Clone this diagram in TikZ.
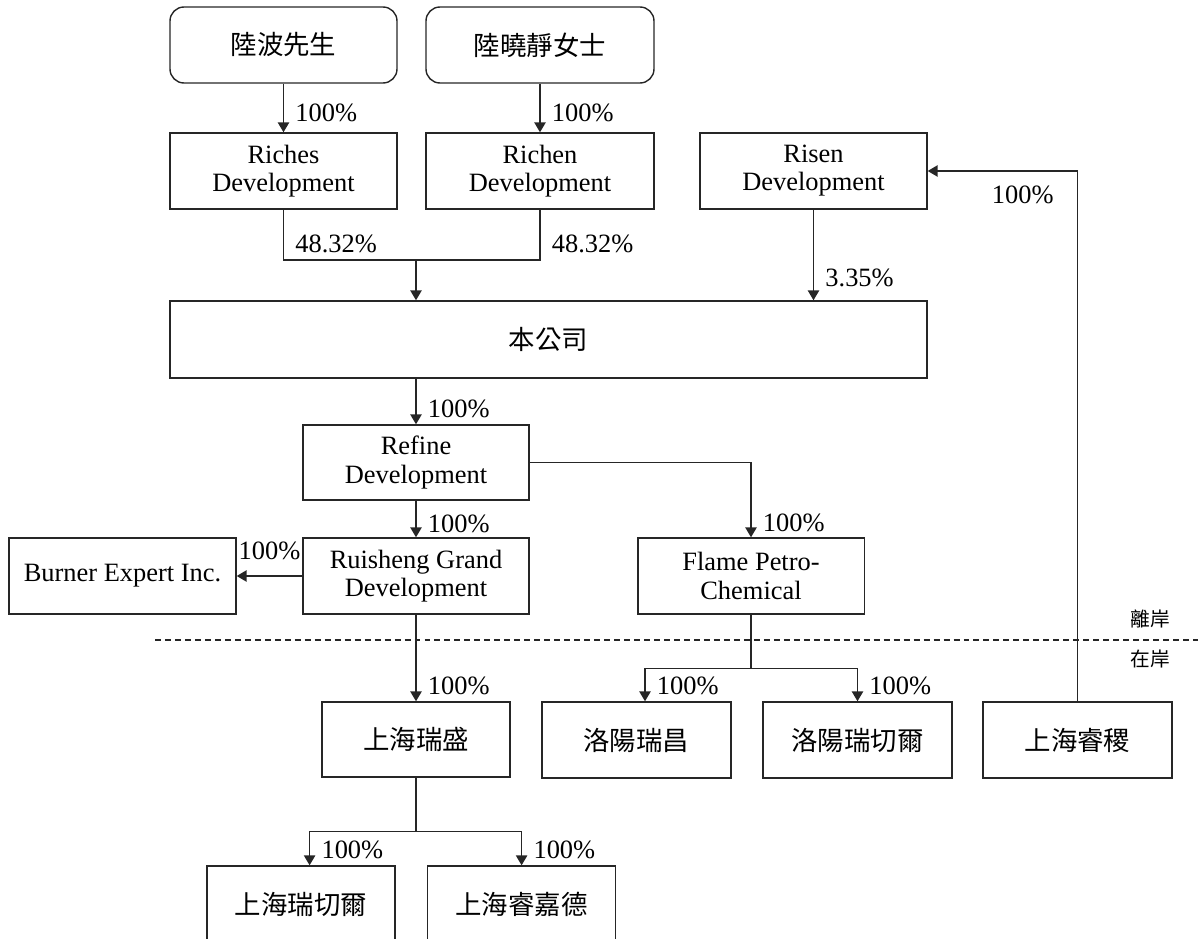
\documentclass[tikz,border=0pt]{standalone}
\usepackage{fontspec}
\setmainfont{Liberation Serif}
\newfontfamily\cjk{Noto Sans CJK TC}
\usetikzlibrary{arrows.meta}

\begin{document}
\begin{tikzpicture}[
    font=\fontsize{18.8pt}{20pt}\selectfont,
    box/.style={draw=black!85, line width=1pt, minimum width=5.675cm, minimum height=1.9cm, align=center, inner sep=2pt},
    sbox/.style={box, minimum width=4.725cm},
    owner/.style={box, rounded corners=0.35cm},
    link/.style={draw=black!85, line width=1pt},
    arr/.style={link, -{Triangle[length=7pt,width=8pt]}},
    pct/.style={inner sep=0pt, anchor=west, xshift=8pt},
    shore/.style={draw=black!85, line width=1pt, dash pattern=on 4.25pt off 2.85pt},
    side/.style={font=\fontsize{14pt}{16pt}\selectfont\cjk}
]
    \path[use as bounding box] (0,0) rectangle (29.95,-23.475);

    \node[owner] (mrlu) at (7.0875,-1.125) {\cjk 陸波先生};
    \node[owner, minimum width=5.7cm] (mslu) at (13.5,-1.125) {\cjk 陸曉靜女士};
    \node[box] (riches) at (7.0875,-4.275) {Riches\\Development};
    \node[box, minimum width=5.7cm] (richen) at (13.5,-4.275) {Richen\\Development};
    \node[box] (risen) at (20.3375,-4.275) {Risen\\Development};
    \node[box, minimum width=18.925cm, minimum height=1.925cm] (company) at (13.7125,-8.4875) {\cjk 本公司};
    \node[box, minimum width=5.65cm, minimum height=1.875cm] (refine) at (10.4,-11.5625) {Refine\\Development};
    \node[box, minimum width=5.65cm] (ruisheng) at (10.4,-14.4) {Ruisheng Grand\\Development};
    \node[box] (burner) at (3.0625,-14.4) {Burner Expert Inc.};
    \node[box, minimum width=5.66cm] (flame) at (18.775,-14.4) {Flame Petro-\\Chemical};
    \node[sbox, minimum width=4.7cm, minimum height=1.875cm] (shrs) at (10.4,-18.4875) {\cjk 上海瑞盛};
    \node[sbox] (lyrc) at (15.91,-18.5) {\cjk 洛陽瑞昌};
    \node[sbox] (lyrqe) at (21.4375,-18.5) {\cjk 洛陽瑞切爾};
    \node[sbox] (shrj) at (26.9375,-18.5) {\cjk 上海睿稷};
    \node[sbox, minimum width=4.7cm] (shrqe) at (7.52,-22.6) {\cjk 上海瑞切爾};
    \node[sbox, minimum width=4.7cm] (shrjd) at (13.04,-22.6) {\cjk 上海睿嘉德};

    \draw[shore] (3.875,-16) -- (29.95,-16);
    \node[side] (offshore) at (28.75,-15.475) {離岸};
    \node[side] (onshore) at (28.75,-16.475) {在岸};

    \coordinate (mj) at (10.4,-6.5);
    \draw[arr] (mrlu) -- node[pct, pos=0.6] {100\%} (riches);
    \draw[arr] (mslu) -- node[pct, pos=0.6] {100\%} (richen);
    \draw[link] (riches.south) |- node[pct, pos=0.34] {48.32\%} (richen.south |- mj) -- node[pct, pos=0.32] {48.32\%} (richen.south);
    \draw[arr] (mj) -- (mj |- company.north);
    \draw[arr] (risen.south) -- node[pct, pos=0.755] {3.35\%} (risen.south |- company.north);
    \draw[arr] (shrj.north) |- node[pos=0.5, anchor=north east, inner sep=0pt, xshift=-16.5pt, yshift=-10pt] {100\%} (risen.east);

    \draw[arr] (mj |- company.south) -- node[pct, pos=0.67] {100\%} (refine);
    \draw[arr] (refine) -- node[pct, pos=0.64] {100\%} (ruisheng);
    \draw[arr] (refine.east) -| node[pct, pos=0.907] {100\%} (flame.north);
    \draw[arr] (ruisheng) -- node[midway, inner sep=0pt, anchor=south, yshift=11pt] {100\%} (burner);
    \draw[arr] (ruisheng) -- node[pct, pos=0.82] {100\%} (shrs);

    \draw[link] (flame.south) -- ++(0,-1.35) coordinate (fj);
    \draw[arr] (fj) -| node[pct, pos=0.77] {100\%} ([xshift=0.215cm]lyrc.north);
    \draw[arr] (fj) -| node[pct, pos=0.77] {100\%} (lyrqe.north);

    \draw[link] (shrs.south) -- ++(0,-1.35) coordinate (sj);
    \draw[arr] (sj) -| node[pct, pos=0.77] {100\%} ([xshift=0.22cm]shrqe.north);
    \draw[arr] (sj) -| node[pct, pos=0.77] {100\%} (shrjd.north);
\end{tikzpicture}
\end{document}
